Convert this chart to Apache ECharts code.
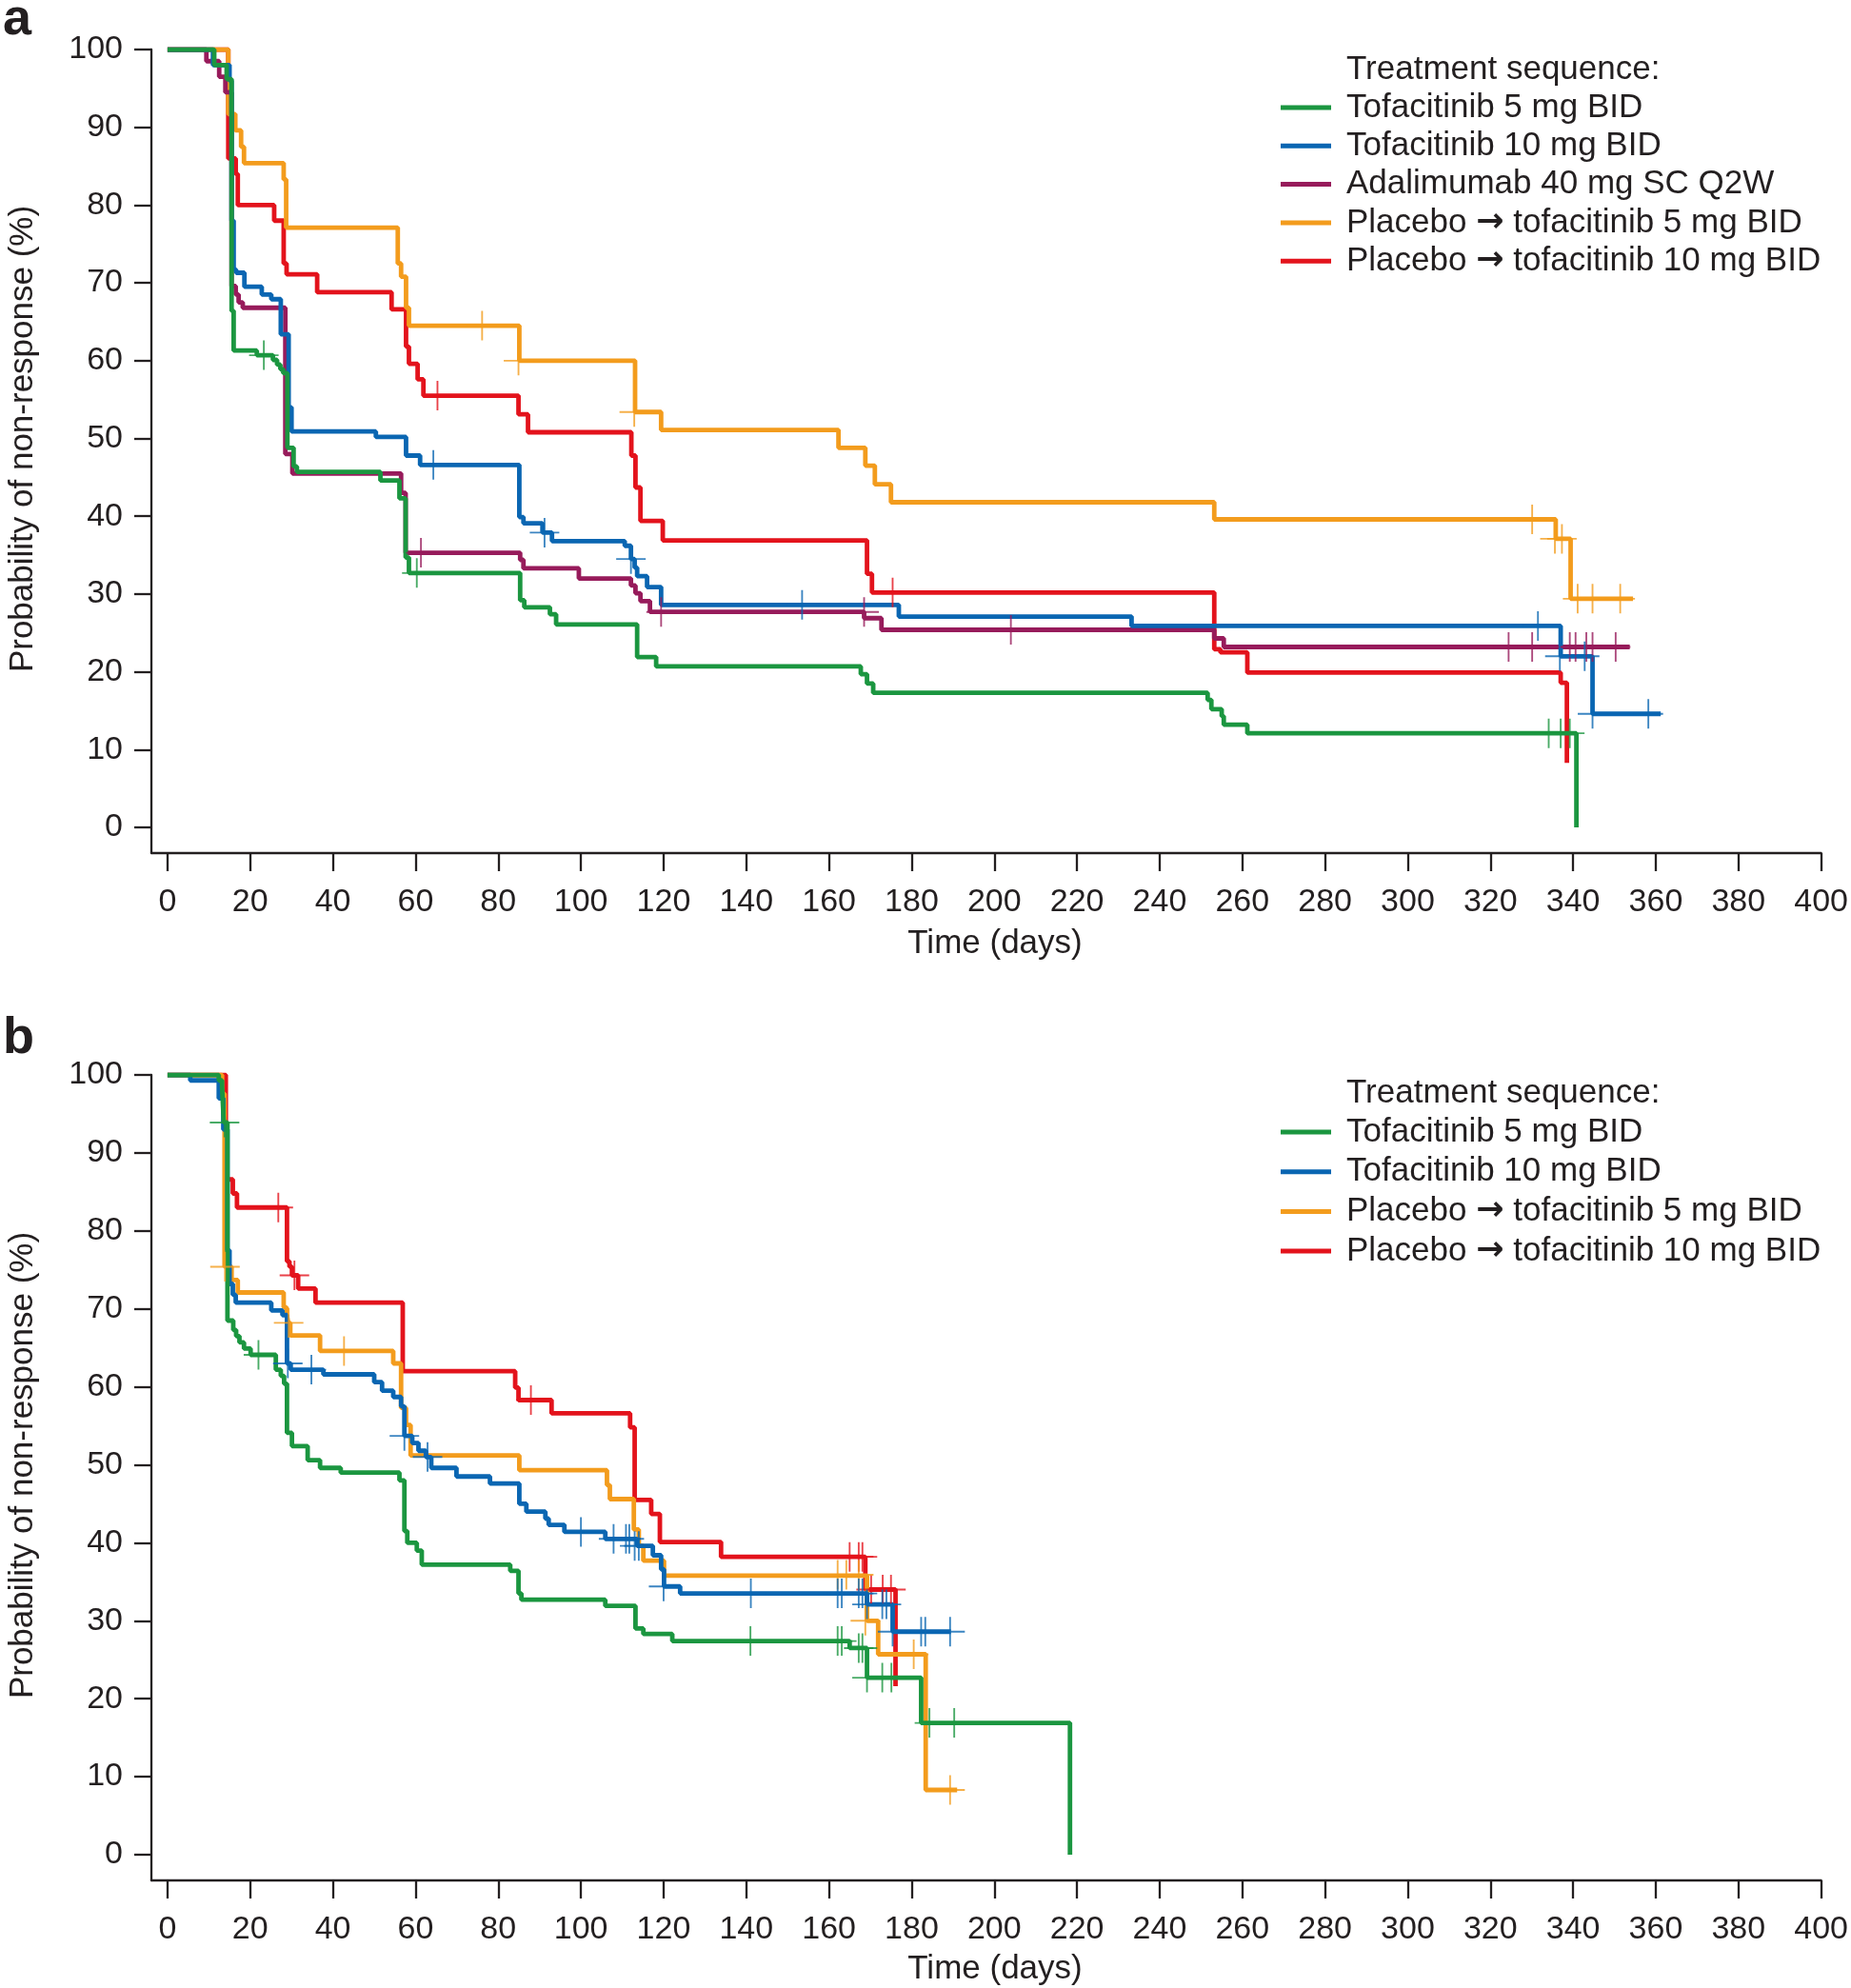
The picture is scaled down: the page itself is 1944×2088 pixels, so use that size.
<!DOCTYPE html>
<html>
<head>
<meta charset="utf-8">
<script src="https://cdn.jsdelivr.net/npm/echarts@6/dist/echarts.min.js"></script>
<style>
html,body{margin:0;padding:0;background:#fff;}
#chart{width:1944px;height:2088px;}
</style>
</head>
<body>
<div id="chart"></div>
<script>
// ---------- DATA ----------
const xTicks = [0,20,40,60,80,100,120,140,160,180,200,220,240,260,280,300,320,340,360,380,400];
const yTicks = [0,10,20,30,40,50,60,70,80,90,100];

const namesA = ['Tofacitinib 5 mg BID','Tofacitinib 10 mg BID','Adalimumab 40 mg SC Q2W','Placebo \u2192 tofacitinib 5 mg BID','Placebo \u2192 tofacitinib 10 mg BID'];
const namesB = ['Tofacitinib 5 mg BID','Tofacitinib 10 mg BID','Placebo \u2192 tofacitinib 5 mg BID','Placebo \u2192 tofacitinib 10 mg BID'];

// Panel a
const a_tof5 = [[0,100],[11.3,98.0],[14.3,96.2],[15.5,66.4],[16.0,61.3],[21.6,60.7],[25.5,60.1],[26.5,59.5],[27.3,58.9],[28.0,58.4],[29.0,48.8],[30.5,46.4],[31.3,45.7],[51.5,44.6],[56.1,42.3],[57.6,34.7],[58.4,32.7],[85.3,29.2],[86.3,28.3],[92.5,27.4],[94.0,26.1],[113.6,21.9],[118.2,20.7],[167.7,19.7],[169.2,18.5],[170.7,17.3],[251.6,16.4],[252.5,15.2],[255.0,14.3],[255.5,13.2],[261.2,12.1],[340.8,0]];
const a_tof5_cens = [[23.3,60.7],[60.3,32.7],[334.1,12.1],[337.0,12.1],[339.2,12.1]];

const a_tof10 = [[0,100],[11.0,98.0],[15.0,96.0],[15.5,78.0],[16.0,71.7],[16.6,71.3],[18.6,69.5],[22.8,68.5],[25.1,67.9],[27.4,63.4],[29.3,54.0],[30.0,50.9],[50.4,50.2],[57.7,47.8],[61.1,46.6],[85.1,39.9],[86.1,39.1],[90.7,37.9],[93.0,36.8],[110.6,36.2],[112.1,34.5],[113.0,33.4],[113.6,32.3],[116.0,30.9],[119.4,28.6],[176.9,27.1],[233.2,25.9],[337.0,22.0],[344.7,14.6],[361.2,14.6]];
const a_tof10_cens = [[64.3,46.6],[91.2,37.9],[112.1,34.5],[153.5,28.6],[331.5,25.9],[336.8,22.0],[342.8,22.0],[344.7,14.6],[358.2,14.6]];

const a_ada = [[0,100],[9.4,98.5],[12.5,96.5],[14.0,94.5],[15.5,69.6],[16.5,68.5],[17.2,67.5],[18.2,66.8],[28.5,48.0],[30.2,45.5],[56.5,43.0],[57.6,35.3],[85.3,34.4],[86.1,33.3],[99.5,32.0],[112.1,31.1],[113.2,30.1],[114.4,29.1],[116.7,27.7],[168.5,26.9],[172.7,25.4],[253.2,24.3],[255.5,23.2],[353.7,23.2]];
const a_ada_cens = [[61.3,35.3],[119.4,27.7],[168.5,27.7],[204.0,25.4],[324.4,23.2],[330.1,23.2],[339.2,23.2],[340.6,23.2],[343.2,23.2],[344.7,23.2],[350.3,23.2]];

const a_pbo5 = [[0,100],[14.7,91.7],[16.4,89.6],[17.8,87.5],[18.5,85.4],[28.1,83.3],[28.7,77.1],[55.7,72.5],[56.5,70.8],[57.7,66.8],[58.4,64.5],[85.1,60.0],[113.1,53.4],[119.4,51.1],[162.3,48.8],[168.8,46.5],[171.1,44.1],[175.0,41.8],[253.2,39.6],[335.8,37.1],[339.4,29.4],[354.5,29.4]];
const a_pbo5_cens = [[76.1,64.5],[84.9,60.0],[112.9,53.4],[330.1,39.6],[335.6,37.1],[337.3,37.1],[341.1,29.4],[344.7,29.4],[351.4,29.4]];

const a_pbo10 = [[0,100],[14.7,86.0],[16.5,84.0],[17.0,80.0],[25.8,78.0],[28.1,72.5],[28.8,71.1],[36.2,68.8],[54.2,66.6],[57.7,61.8],[58.4,59.6],[60.5,57.6],[61.9,55.5],[84.9,53.1],[87.2,50.8],[112.2,47.8],[113.2,43.7],[114.4,39.4],[119.8,36.9],[169.2,32.6],[170.4,30.2],[253.2,22.9],[254.7,22.5],[261.2,19.9],[337.0,18.6],[338.5,8.3]];
const a_pbo10_cens = [[65.3,55.5],[175.4,30.2]];

// Panel b
const b_tof5 = [[0,100],[12.4,99.3],[13.2,98.5],[13.6,93.9],[14.5,68.5],[15.9,67.3],[16.6,66.5],[17.4,65.7],[18.5,64.9],[20.1,64.1],[26.2,62.2],[27.4,61.4],[28.2,60.4],[28.9,54.1],[30.1,52.4],[33.9,50.6],[36.9,49.6],[41.9,49.0],[56.1,48.0],[57.3,41.5],[58.0,40.0],[60.3,39.0],[61.5,37.2],[82.9,36.4],[84.9,33.5],[85.6,32.7],[105.9,31.9],[113.2,29.0],[115.1,28.3],[122.1,27.4],[165.0,26.5],[169.2,22.7],[182.3,16.9],[218.3,0]];
const b_tof5_cens = [[13.8,93.9],[22.0,64.1],[141.0,27.4],[162.1,27.4],[163.1,27.4],[167.2,26.5],[168.1,26.5],[169.2,22.7],[172.9,22.7],[175.1,22.7],[184.3,16.9],[190.3,16.9]];

const b_tof10 = [[0,100],[5.5,99.3],[12.4,97.0],[13.5,93.0],[14.5,77.5],[15.0,73.2],[15.8,71.8],[16.5,70.8],[25.1,69.8],[27.8,69.2],[28.9,63.0],[29.8,62.2],[37.7,61.6],[50.0,60.6],[51.9,59.5],[54.6,58.7],[56.5,57.5],[57.3,53.7],[59.2,52.8],[60.7,51.8],[62.5,51.0],[63.8,49.6],[69.9,48.5],[78.0,47.6],[85.1,45.0],[86.8,44.0],[91.4,43.1],[92.2,42.3],[96.0,41.4],[105.9,40.5],[113.6,39.6],[117.4,38.4],[119.4,36.6],[120.1,34.4],[124.0,33.5],[169.2,32.1],[175.4,28.6],[189.5,28.6]];
const b_tof10_cens = [[29.1,63.0],[34.8,62.2],[57.3,53.7],[62.9,51.0],[100.0,41.4],[107.9,40.5],[110.9,40.5],[111.7,40.5],[113.0,39.6],[114.0,39.6],[120.0,34.4],[141.1,33.5],[162.1,33.5],[163.1,33.5],[167.2,33.5],[168.1,33.5],[169.2,32.1],[172.9,32.1],[173.9,32.1],[175.4,28.6],[182.3,28.6],[183.3,28.6],[189.3,28.6]];

const b_pbo5 = [[0,100],[13.2,97.6],[13.8,75.4],[15.5,73.7],[17.0,72.1],[28.1,70.2],[28.8,69.4],[29.2,68.2],[29.7,66.6],[36.9,64.6],[54.6,63.0],[56.5,57.3],[57.7,55.1],[58.8,51.2],[85.1,49.3],[106.3,47.4],[107.0,45.6],[112.8,41.7],[114.0,39.6],[115.1,37.7],[120.1,35.8],[169.2,30.0],[171.9,25.7],[183.4,8.3],[191.0,8.3]];
const b_pbo5_cens = [[13.9,75.4],[29.3,68.2],[42.7,64.6],[162.1,35.9],[164.2,35.9],[167.2,35.9],[168.8,30.0],[180.5,25.7],[189.3,8.3]];

const b_pbo10 = [[0,100],[14.1,86.6],[15.8,84.8],[16.8,83.0],[28.9,76.1],[29.5,75.4],[30.1,74.3],[31.6,72.6],[35.8,70.8],[56.9,62.0],[84.1,59.9],[84.9,58.3],[92.9,56.6],[111.9,54.8],[113.0,45.5],[117.0,43.7],[119.1,40.1],[133.9,38.2],[168.8,34.0],[176.1,21.6]];
const b_pbo10_cens = [[26.8,83.0],[30.7,74.3],[87.9,58.3],[165.0,38.2],[167.2,38.2],[168.1,38.2],[170.2,34.0],[173.0,34.0],[175.0,34.0]];

// ---------- STYLE ----------
const C = {tof5:'#1b9640', tof10:'#0a66b2', ada:'#971b5b', pbo5:'#f39c1d', pbo10:'#e3131c'};
const FONT = "'Liberation Sans', Arial, Helvetica, sans-serif";
const INK = '#231f20';
const CROSS = 'path://M4.7,0 L5.3,0 L5.3,10 L4.7,10 Z M0,4.7 L10,4.7 L10,5.3 L0,5.3 Z';

function km(name, data, color, g){
  return {type:'line', name:name, data:data, step:'end', xAxisIndex:g, yAxisIndex:g,
    showSymbol:false, symbol:'none', lineStyle:{width:4.8, color:color}, itemStyle:{color:color},
    animation:false, silent:true, z:2};
}
function cens(name, data, color, g){
  return {type:'scatter', name:name + ' censored', data:data, xAxisIndex:g, yAxisIndex:g,
    symbol:CROSS, symbolSize:31, itemStyle:{color:color}, animation:false, silent:true, z:3};
}
function xAx(g){
  return {type:'value', gridIndex:g, min:-3.9, max:400,
    axisLine:{show:true, onZero:false, lineStyle:{color:INK, width:2.3}},
    axisTick:{show:true, length:19, customValues:xTicks, lineStyle:{color:INK, width:2.3}},
    axisLabel:{customValues:xTicks, fontSize:34, fontFamily:FONT, color:INK, margin:35},
    splitLine:{show:false}};
}
function yAx(g){
  return {type:'value', gridIndex:g, min:-3.3, max:100,
    axisLine:{show:true, onZero:false, lineStyle:{color:INK, width:2.3}},
    axisTick:{show:true, length:18, customValues:yTicks, lineStyle:{color:INK, width:2.3}},
    axisLabel:{customValues:yTicks, fontSize:34, fontFamily:FONT, color:INK, margin:30},
    splitLine:{show:false}};
}
function leg(names, top, gap){
  return {data:names, orient:'vertical', left:1345, top:top, padding:0, itemGap:gap,
    itemWidth:53, itemHeight:5, icon:'rect', selectedMode:false,
    formatter:function(n){ return n.replace('\u2192', '{arr|\u2192}'); },
    textStyle:{fontSize:35, fontFamily:FONT, color:INK, lineHeight:40, padding:[0,0,0,11],
      rich:{arr:{fontSize:35, fontFamily:"'DejaVu Sans', sans-serif", fontWeight:'bold', color:INK, lineHeight:40}}}};
}
function txt(s, x, y, opt){
  return {type:'text', x:x, y:y, style:Object.assign({text:s, fill:INK, font:'35px ' + FONT, textAlign:'center', textVerticalAlign:'middle'}, opt||{})};
}

const option = {
  backgroundColor:'#fff',
  animation:false,
  grid:[
    {left:159, right:29, top:52, height:844},
    {left:159, right:29, top:1129, height:846}
  ],
  xAxis:[xAx(0), xAx(1)],
  yAxis:[yAx(0), yAx(1)],
  legend:[leg(namesA, 93, 0.3), leg(namesB, 1169, 1.7)],
  graphic:[
    txt('a', 3, 21, {font:'bold 54px ' + FONT, textAlign:'left'}),
    txt('b', 3, 1091, {font:'bold 54px ' + FONT, textAlign:'left'}),
    txt('Treatment sequence:', 1414, 73.5, {textAlign:'left'}),
    txt('Treatment sequence:', 1414, 1148.5, {textAlign:'left'}),
    txt('Time (days)', 1045, 991.5),
    txt('Time (days)', 1045, 2068.5),
    {type:'text', x:24, y:461, rotation:Math.PI/2, style:{text:'Probability of non-response (%)', fill:INK, font:'35px ' + FONT, textAlign:'center', textVerticalAlign:'middle'}},
    {type:'text', x:24, y:1539, rotation:Math.PI/2, style:{text:'Probability of non-response (%)', fill:INK, font:'35px ' + FONT, textAlign:'center', textVerticalAlign:'middle'}}
  ],
  series:[
    km(namesA[4], a_pbo10, C.pbo10, 0),
    km(namesA[3], a_pbo5, C.pbo5, 0),
    km(namesA[2], a_ada, C.ada, 0),
    km(namesA[1], a_tof10, C.tof10, 0),
    km(namesA[0], a_tof5, C.tof5, 0),
    cens(namesA[4], a_pbo10_cens, C.pbo10, 0),
    cens(namesA[3], a_pbo5_cens, C.pbo5, 0),
    cens(namesA[2], a_ada_cens, C.ada, 0),
    cens(namesA[1], a_tof10_cens, C.tof10, 0),
    cens(namesA[0], a_tof5_cens, C.tof5, 0),
    km(namesB[3], b_pbo10, C.pbo10, 1),
    km(namesB[2], b_pbo5, C.pbo5, 1),
    km(namesB[1], b_tof10, C.tof10, 1),
    km(namesB[0], b_tof5, C.tof5, 1),
    cens(namesB[3], b_pbo10_cens, C.pbo10, 1),
    cens(namesB[2], b_pbo5_cens, C.pbo5, 1),
    cens(namesB[1], b_tof10_cens, C.tof10, 1),
    cens(namesB[0], b_tof5_cens, C.tof5, 1)
  ]
};
const chart = echarts.init(document.getElementById('chart'), null, {renderer:'canvas'});
chart.setOption(option);
</script>
</body>
</html>
